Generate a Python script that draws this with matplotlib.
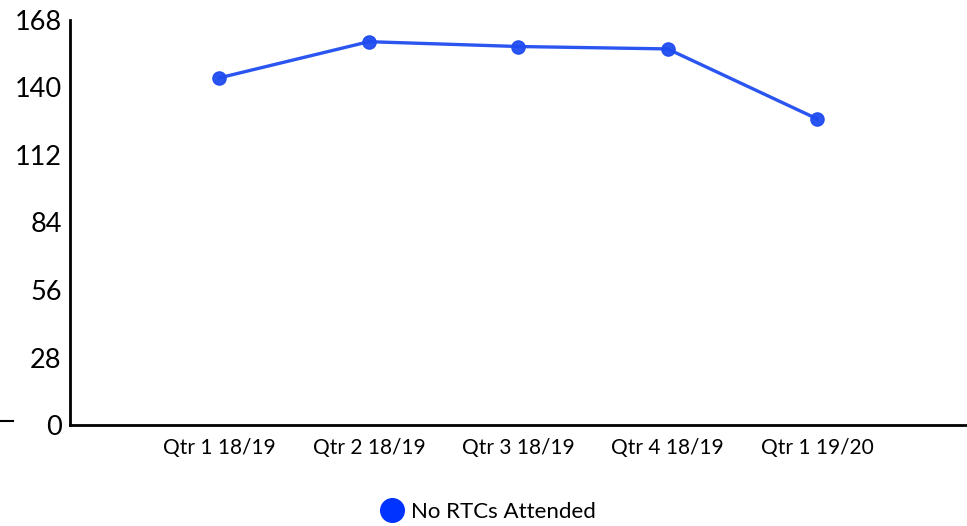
import matplotlib
matplotlib.use("Agg")
import matplotlib.pyplot as plt
from matplotlib.lines import Line2D

# data
quarters = ["Qtr 1 18/19", "Qtr 2 18/19", "Qtr 3 18/19", "Qtr 4 18/19", "Qtr 1 19/20"]
rtcs = [144, 159, 157, 156, 127]
y_ticks = [0, 28, 56, 84, 112, 140, 168]

plt.rcParams["font.family"] = ["Lato", "DejaVu Sans"]

fig = plt.figure(figsize=(9.67, 5.26), dpi=100)
ax = fig.add_axes([0.0724, 0.192, 0.927, 0.770])

blue = "#1f4cf0"
x = list(range(len(quarters)))
ax.plot(x, rtcs, color=blue, linewidth=2.4, marker="o", markersize=9.5,
        markerfacecolor=blue, markeredgecolor=blue, alpha=0.95, zorder=3)

ax.set_xlim(-1, 5)
ax.set_ylim(0, 168)
ax.set_xticks(x)
ax.set_xticklabels(quarters, fontsize=15)
ax.set_yticks(y_ticks)
ax.set_yticklabels([str(v) for v in y_ticks], fontsize=19.5)
ax.tick_params(axis="both", length=0)
ax.tick_params(axis="x", pad=9)
ax.tick_params(axis="y", pad=6)

for side in ["top", "right"]:
    ax.spines[side].set_visible(False)
for side in ["left", "bottom"]:
    ax.spines[side].set_linewidth(2)
    ax.spines[side].set_color("black")

# legend below the chart
handle = Line2D([], [], linestyle="none", marker="o", markersize=17,
                markerfacecolor="#0033ff", markeredgecolor="#0033ff")
fig.legend([handle], ["No RTCs Attended"], loc="center", bbox_to_anchor=(0.505, 0.027),
           frameon=False, fontsize=16, handletextpad=0.35, handlelength=1.0)

# stray dash at the left edge
fig.add_artist(Line2D([0.0, 0.013], [1 - 421 / 526, 1 - 421 / 526], color="black", linewidth=1.5))

fig.savefig("out.png", dpi=100)
